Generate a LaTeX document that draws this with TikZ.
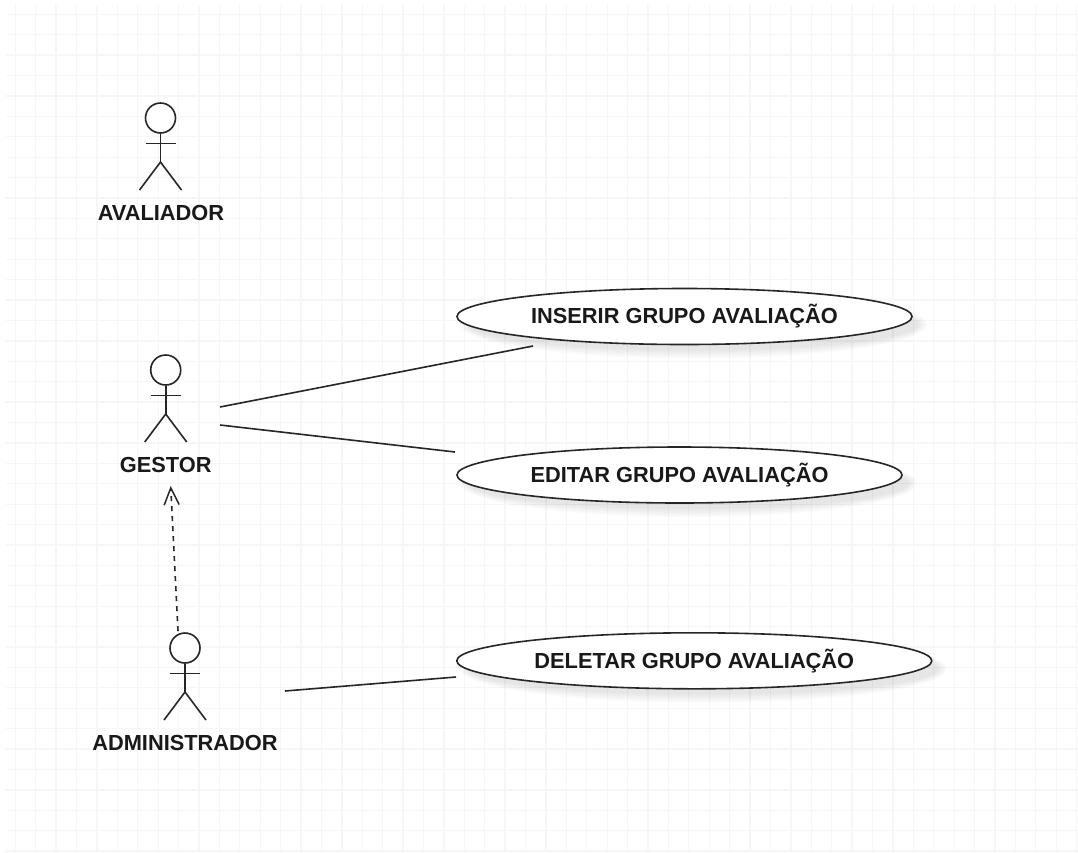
\documentclass[tikz,border=0pt]{standalone}
\usepackage{fontspec}
\setmainfont{Liberation Sans}
\usetikzlibrary{shapes.geometric,arrows.meta,calc}
\definecolor{gridcol}{gray}{0.965}
\tikzset{
  gridline/.style={draw=gridcol,line width=1.3pt},
  ink/.style={draw=black!85,line width=1.6pt},
  head/.style={circle,ink,fill=white,minimum size=30pt,inner sep=0pt},
  actorlabel/.style={font=\fontsize{21.8}{24}\selectfont\bfseries,text=black!90,inner sep=0pt},
  usecase/.style={ellipse,ink,fill=white,minimum height=56pt,inner sep=0pt,font=\fontsize{21.8}{24}\selectfont\bfseries,text=black!90},
  shade1/.style={ellipse,fill=black,opacity=0.018,inner sep=0pt,minimum height=56pt},
  dep/.style={ink,dashed,dash pattern=on 5pt off 5pt,-{Straight Barb[length=17pt,width=15pt,line width=1.5pt]}}
}
\newcommand{\actor}[3]{% name, x, head y
  \node[head] (#1) at (#2,#3) {};
  \coordinate (#1neck) at (#2,#3+25.5);
  \coordinate (#1hip) at (#2,#3+44);
  \draw[ink] (#1.south) -- (#1hip);
  \draw[ink] ($(#1neck)+(-15,0)$) -- ($(#1neck)+(15,0)$);
  \draw[ink] ($(#1hip)+(-21,28)$) -- (#1hip) -- ($(#1hip)+(21,28)$);
}
\newcommand{\usecasenode}[5]{% name, x, y, width, text
  \foreach \d in {-2,0,2,4,6}{
    \node[shade1,minimum width=#4pt+2*\d pt,minimum height=56pt+2*\d pt] at (#2+9,#3+8) {};
  }
  \node[usecase,minimum width=#4pt] (#1) at (#2,#3) {#5};
}
\begin{document}
\begin{tikzpicture}[x=1pt,y=-1pt]
\useasboundingbox (0,0) rectangle (1078,852);
\fill[white] (0,0) rectangle (1078,852);
\foreach \k in {0,...,52}{
  \draw[gridline] (15.3+20.41*\k,5) -- (15.3+20.41*\k,852);
}
\foreach \k in {0,...,41}{
  \draw[gridline] (6,14.3+20.41*\k) -- (1078,14.3+20.41*\k);
}
\actor{avaliador}{160.5}{118}
\actor{gestor}{165.7}{370}
\actor{administrador}{185}{648}
\node[actorlabel] (lavaliador) at (161,213) {AVALIADOR};
\node[actorlabel] (lgestor) at (165.7,465) {GESTOR};
\node[actorlabel] (ladministrador) at (185,743) {ADMINISTRADOR};
\usecasenode{inserir}{684.5}{316.5}{455}{INSERIR GRUPO AVALIAÇÃO}
\usecasenode{editar}{679.5}{475}{445}{EDITAR GRUPO AVALIAÇÃO}
\usecasenode{deletar}{694.3}{660.8}{475}{DELETAR GRUPO AVALIAÇÃO}
\coordinate (g1) at (220,407);
\coordinate (g2) at (220,425);
\coordinate (a1) at (285,691);
\coordinate (i1) at (533,346);
\coordinate (e1) at (455,452);
\coordinate (d1) at (456,677);
\coordinate (depfrom) at (178,631);
\coordinate (depto) at (170.7,486);
\draw[ink] (g1) -- (i1);
\draw[ink] (g2) -- (e1);
\draw[ink] (a1) -- (d1);
\draw[dep] (depfrom) -- (depto);
\end{tikzpicture}
\end{document}
